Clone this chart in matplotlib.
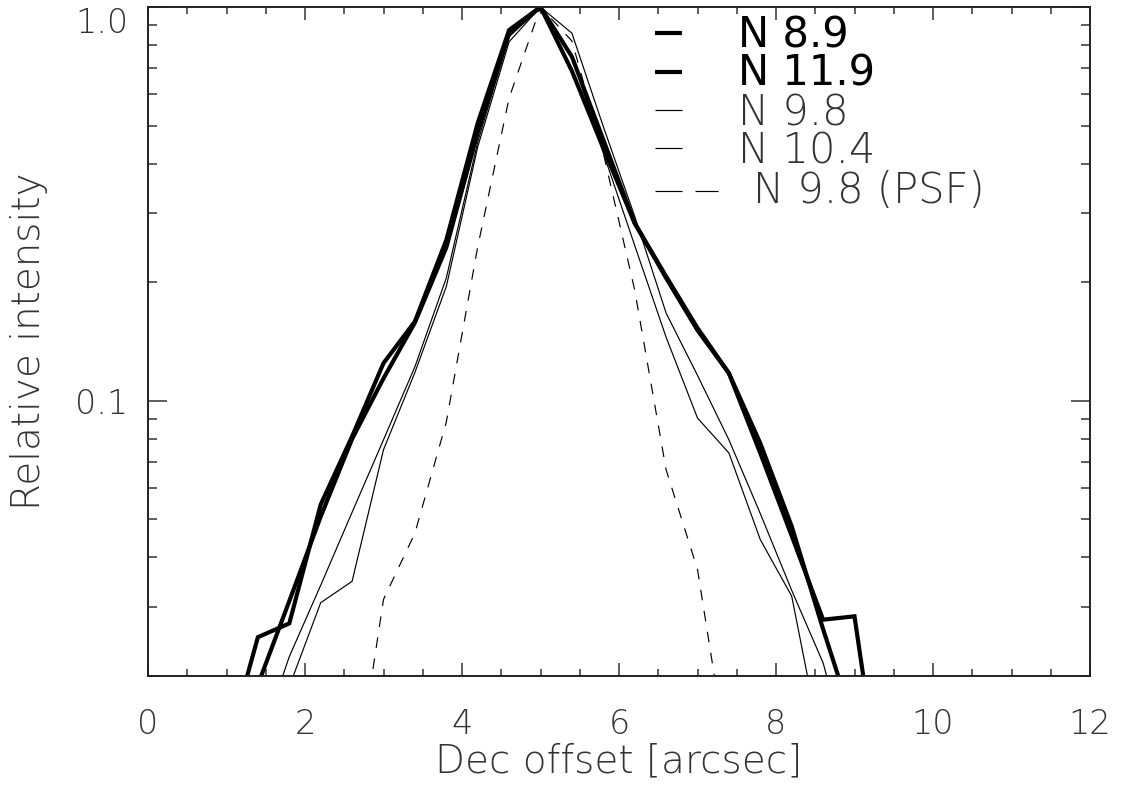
import matplotlib
matplotlib.use("Agg")
import numpy as np
import matplotlib.pyplot as plt
from matplotlib import font_manager as fm
from matplotlib.ticker import FixedLocator, MultipleLocator, NullFormatter

# ---------------- data ----------------
dec_offset = [1.0, 1.4, 1.8, 2.2, 2.6, 3.0, 3.4, 3.8, 4.2, 4.6, 5.0,
              5.4, 5.8, 6.2, 6.6, 7.0, 7.4, 7.8, 8.2, 8.6, 9.0, 9.4]

n89 = [0.0129, 0.0251, 0.0272, 0.0545, 0.0812, 0.1246, 0.159, 0.256, 0.507, 0.874, 1.0,
       0.748, 0.46, 0.2825, 0.207, 0.153, 0.1175, 0.0736, 0.0454, 0.0278, 0.02835, 0.0081]
n119 = [np.nan, 0.019, 0.031, 0.0508, 0.080, 0.114, 0.158, 0.245, 0.48, 0.857, 1.0,
        0.688, 0.438, 0.2825, 0.205, 0.151, 0.1175, 0.078, 0.048, 0.0263, 0.0149, np.nan]
n98 = [np.nan, np.nan, 0.0188, 0.0307, 0.0348, 0.0751, 0.118, 0.195, 0.441, 0.816, 1.0,
       0.75, 0.426, 0.248, 0.145, 0.0904, 0.0737, 0.0444, 0.0319, 0.0126, np.nan, np.nan]
n104 = [np.nan, 0.0131, 0.0224, 0.034, 0.0521, 0.0796, 0.122, 0.205, 0.454, 0.84, 1.0,
        0.858, 0.497, 0.294, 0.167, 0.116, 0.0796, 0.0517, 0.033, 0.0216, 0.011, np.nan]
n98_psf = [np.nan, np.nan, np.nan, np.nan, 0.0093, 0.0313, 0.0461, 0.0883, 0.246, 0.587, 1.0,
           0.82, 0.426, 0.191, 0.0668, 0.0373, 0.0117, np.nan, np.nan, np.nan, np.nan, np.nan]

legend_labels = ["N 8.9", "N 11.9", "N 9.8", "N 10.4", "N 9.8 (PSF)"]
x_ticks = [0, 2, 4, 6, 8, 10, 12]
y_ticks = [0.1, 1.0]
y_ticklabels = ["0.1", "1.0"]

# ---------------- fonts ----------------
def _w(v):
    if isinstance(v, str):
        return fm.weight_dict.get(v, 400)
    return v

has_light = any(f.name == "DejaVu Sans" and _w(f.weight) <= 300 for f in fm.fontManager.ttflist)
if has_light:
    thin_font = dict(family="DejaVu Sans", weight="light", color="#333333")
else:
    thin_font = dict(family="DejaVu Sans", weight="normal", color="#555555")
bold_font = dict(family="DejaVu Sans", weight="normal", color="black")

# ---------------- figure ----------------
W, H = 1125, 794
fig = plt.figure(figsize=(W / 100, H / 100), dpi=100)
L, R, T, B = 148, 1090, 7, 676
ax = fig.add_axes([L / W, (H - B) / H, (R - L) / W, (B - T) / H])
ax.set_yscale("log")
ax.set_xlim(0, 12)
ax.set_ylim(0.02, 1.0)

thick = 3.0
thin = 0.85
ax.plot(dec_offset, n89, color="black", lw=thick, solid_joinstyle="miter")
ax.plot(dec_offset, n119, color="black", lw=thick, solid_joinstyle="miter")
ax.plot(dec_offset, n98, color="black", lw=thin)
ax.plot(dec_offset, n104, color="black", lw=thin)
ax.plot(dec_offset, n98_psf, color="black", lw=thin, dashes=(9, 9))

# ---------------- axes styling ----------------
for s in ax.spines.values():
    s.set_linewidth(1.4)
    s.set_color("#222222")

ax.xaxis.set_major_locator(FixedLocator(x_ticks))
ax.xaxis.set_minor_locator(MultipleLocator(0.5))
ax.set_xticklabels([str(v) for v in x_ticks])
ax.set_yticks(y_ticks)
ax.set_yticklabels(y_ticklabels)
ax.yaxis.set_minor_locator(FixedLocator([0.02, 0.03, 0.04, 0.05, 0.06, 0.07, 0.08, 0.09,
                                         0.2, 0.3, 0.4, 0.5, 0.6, 0.7, 0.8, 0.9]))
ax.yaxis.set_minor_formatter(NullFormatter())

ax.tick_params(which="both", direction="in", top=True, right=True, color="#333333", width=1.1)
ax.tick_params(axis="x", which="major", length=9.5, pad=23)
ax.tick_params(axis="x", which="minor", length=4.8)
ax.tick_params(axis="y", which="major", length=14, pad=14)
ax.tick_params(axis="y", which="minor", length=6.5)

for lab in ax.get_xticklabels() + ax.get_yticklabels():
    lab.set_fontsize(24)
    lab.set_family(thin_font["family"])
    lab.set_weight(thin_font["weight"])
    lab.set_color(thin_font["color"])

yt = ax.yaxis.get_major_ticks()
yt[1].label1.set_va("top")

ax.set_xlabel("Dec offset [arcsec]", fontsize=28, **thin_font)
ax.xaxis.set_label_coords(0.5, (B - 772) / (B - T))
ax.xaxis.label.set_va("baseline")

ax.set_ylabel("Relative intensity", fontsize=28, rotation=90, rotation_mode="anchor", **thin_font)
ax.yaxis.set_label_coords((40 - L) / (R - L), (B - 341) / (B - T))
ax.yaxis.label.set_va("baseline")
ax.yaxis.label.set_ha("center")

# ---------------- legend (drawn IDL-style) ----------------
def fx(px):
    return (px - L) / (R - L)

def fy(py):
    return (B - py) / (B - T)

leg_line_y = [33, 72, 110, 148, 191]
leg_text_base = [47, 85, 125, 163, 203]
leg_text_x = [738, 738, 738, 738, 753]
leg_lw = [thick, thick, thin, thin, thin]
for i, lab in enumerate(legend_labels):
    if i < 4:
        ax.plot([fx(655), fx(682)], [fy(leg_line_y[i])] * 2, transform=ax.transAxes,
                color="black", lw=leg_lw[i], solid_capstyle="butt", clip_on=False)
    else:
        for x0, x1 in [(655, 682), (695, 718)]:
            ax.plot([fx(x0), fx(x1)], [fy(leg_line_y[i])] * 2, transform=ax.transAxes,
                    color="black", lw=leg_lw[i], solid_capstyle="butt", clip_on=False)
    kw = bold_font if i < 2 else thin_font
    ax.text(fx(leg_text_x[i]), fy(leg_text_base[i]), lab, transform=ax.transAxes,
            fontsize=30, ha="left", va="baseline", **kw)

fig.savefig("out.png", dpi=100)
